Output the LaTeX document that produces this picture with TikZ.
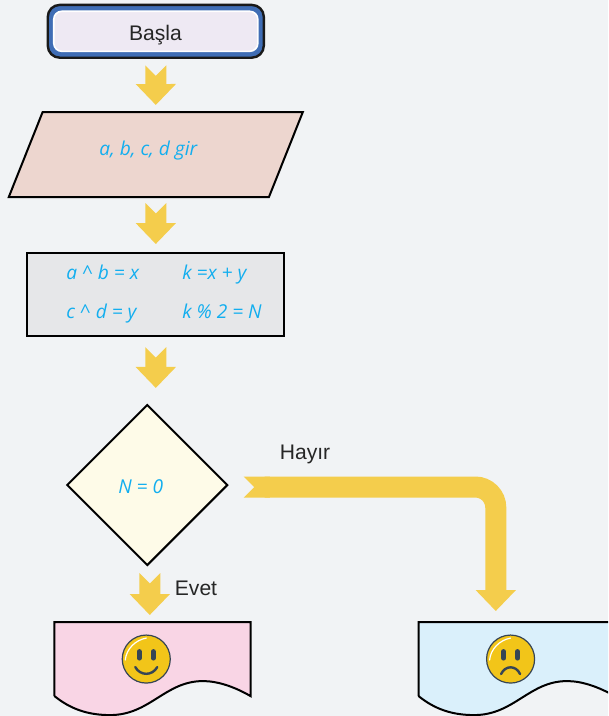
\documentclass[tikz,border=0pt]{standalone}
\usepackage{fontspec}
\usepackage{tikz}
\usetikzlibrary{shapes.geometric,arrows.meta}
\setmainfont{Liberation Sans}
\newfontfamily\formulafont{Open Sans}
\definecolor{pagebg}{RGB}{241,243,245}
\definecolor{flowyellow}{RGB}{244,205,76}
\definecolor{startblue}{RGB}{63,109,181}
\definecolor{startfill}{RGB}{238,233,243}
\definecolor{inputfill}{RGB}{237,214,207}
\definecolor{calcfill}{RGB}{230,231,233}
\definecolor{testfill}{RGB}{254,251,232}
\definecolor{yesfill}{RGB}{249,213,229}
\definecolor{nofill}{RGB}{218,240,251}
\definecolor{formulablue}{RGB}{18,174,239}
\definecolor{facefill}{RGB}{242,197,25}
\definecolor{facedark}{RGB}{54,69,85}

\newcommand{\docwave}[2]{
  \draw[doc line, fill=#2] (#1.south west) -- (#1.north west) -- (#1.north east) -- (#1.south east)
    .. controls +(-15.5,-9) and +(15,0) .. ++(-47.5,-15)
    .. controls +(-38,0) and +(40,0) .. ++(-93,34)
    .. controls +(-22,0) and +(16,13) .. (#1.south west);
}
\newcommand{\faceparts}[1]{
  \begin{scope}[shift={(#1.center)}]
    \draw[face line, line width=0.125cm] (-7,-7.5) -- (-7,-1);
    \draw[face line, line width=0.125cm] (7,-7.5) -- (7,-1);
    \draw[white, line width=0.03cm, line cap=round] (-21,1) .. controls (-20,-10) and (-11,-19) .. (0,-21);
  \end{scope}
}

\begin{document}
\begin{tikzpicture}[x=0.025cm, y=-0.025cm, node distance=3.08cm,
                    main node/.style={draw=black, line width=0.05cm, outer sep=0pt},
                    formula/.style={font=\formulafont\itshape\fontsize{13.6}{15}\selectfont, text=formulablue, anchor=base west, inner sep=0pt},
                    label text/.style={font=\fontsize{15}{18}\selectfont, text=black!85, anchor=base},
                    flow/.style={draw=flowyellow, line width=0.525cm, {Triangle Cap[reversed]}-{Triangle[length=0.525cm,width=0.975cm]}},
                    doc line/.style={draw=black, line width=0.05cm, line join=miter},
                    doc node/.style={minimum width=4.9cm, minimum height=1.85cm, outer sep=0pt, inner sep=0pt},
                    face node/.style={circle, draw=facedark, line width=0.03cm, fill=facefill, minimum size=1.2cm, inner sep=0pt},
                    face line/.style={draw=facedark, line width=0.06cm, line cap=round}]

  \path[use as bounding box, clip] (0,0) rectangle (608,716);
  \fill[pagebg] (0,0) rectangle (608,716);

  \node[draw=black!90, line width=0.06cm, fill=startblue, rounded corners=0.3cm, minimum width=5.4cm, minimum height=1.32cm, outer sep=0.03cm] (start) at (155.8,31.3) {};
  \node[draw=white, line width=0.04cm, fill=startfill, rounded corners=0.2cm, minimum width=5.1cm, minimum height=1.0cm] (begin) at (start.center) {};
  \node[main node, fill=inputfill, trapezium, trapezium left angle=50, trapezium right angle=130, trapezium stretches=true, minimum width=7.375cm, minimum height=2.125cm, inner sep=0pt, font=\fontsize{13}{15}\selectfont] (input) [below of=start] {\phantom{a, b, c, d gir}};
  \node[main node, fill=calcfill, minimum width=6.425cm, minimum height=2.075cm] (calc) [below of=input, node distance=3.5cm] {};
  \node[main node, fill=testfill, diamond, aspect=1, minimum size=4.0cm, inner sep=0pt] (test) [below of=calc, node distance=4.76cm, xshift=-0.2125cm] {};
  \node[doc node] (yes) [below of=test, node distance=4.35cm, xshift=0.13cm] {};
  \node[doc node] (no) [right of=yes, node distance=9.1cm] {};

  \node[label text] (basla) at (155.5,41) {Başla};
  \node[formula] (inputtext) at (99,155) {a, b, c, d gir};
  \node[formula] (calc1) at (66,279.5) {a \^{} b = x};
  \node[formula] (calc2) at (182,279.5) {k =x + y};
  \node[formula] (calc3) at (66,318.5) {c \^{} d = y};
  \node[formula] (calc4) at (182,318.5) {k \% 2 = N};
  \node[formula] (testtext) at (118,493) {N = 0};

  \docwave{yes}{yesfill}
  \docwave{no}{nofill}

  \node[face node] (happy) [xshift=-0.156cm] at (yes.center) {};
  \node[face node] (sad) [xshift=-0.15cm] at (no.center) {};
  \faceparts{happy}
  \faceparts{sad}
  \draw[face line] (happy.center) ++(-11,8) .. controls +(5,9) and +(-5,9) .. ++(22,0);
  \draw[face line] (sad.center) ++(-9.5,15) .. controls +(4,-9) and +(-4,-9) .. ++(19,0);

  \node[label text] (hayir) at (305,459.5) {Hayır};
  \node[label text] (evet) at (196,595.5) {Evet};

  \draw[flow, shorten <=0.16cm, shorten >=0.175cm] (start.south) -- (input.north);
  \draw[flow, shorten <=0.15cm, shorten >=0.225cm] (input.south) -- (calc.north);
  \draw[flow, shorten <=0.275cm, shorten >=0.425cm] (calc.south) -- (calc.south |- test.north);
  \draw[flow, shorten <=0.2cm, shorten >=0.175cm] ([xshift=0.0625cm]test.south) -- ([xshift=0.0625cm]test.south |- yes.north);
  \draw[flow, rounded corners=0.5125cm, shorten <=0.41cm, shorten >=0.275cm] ([yshift=-0.05cm]test.east) -| ([xshift=-0.52cm]no.north);

\end{tikzpicture}
\end{document}
